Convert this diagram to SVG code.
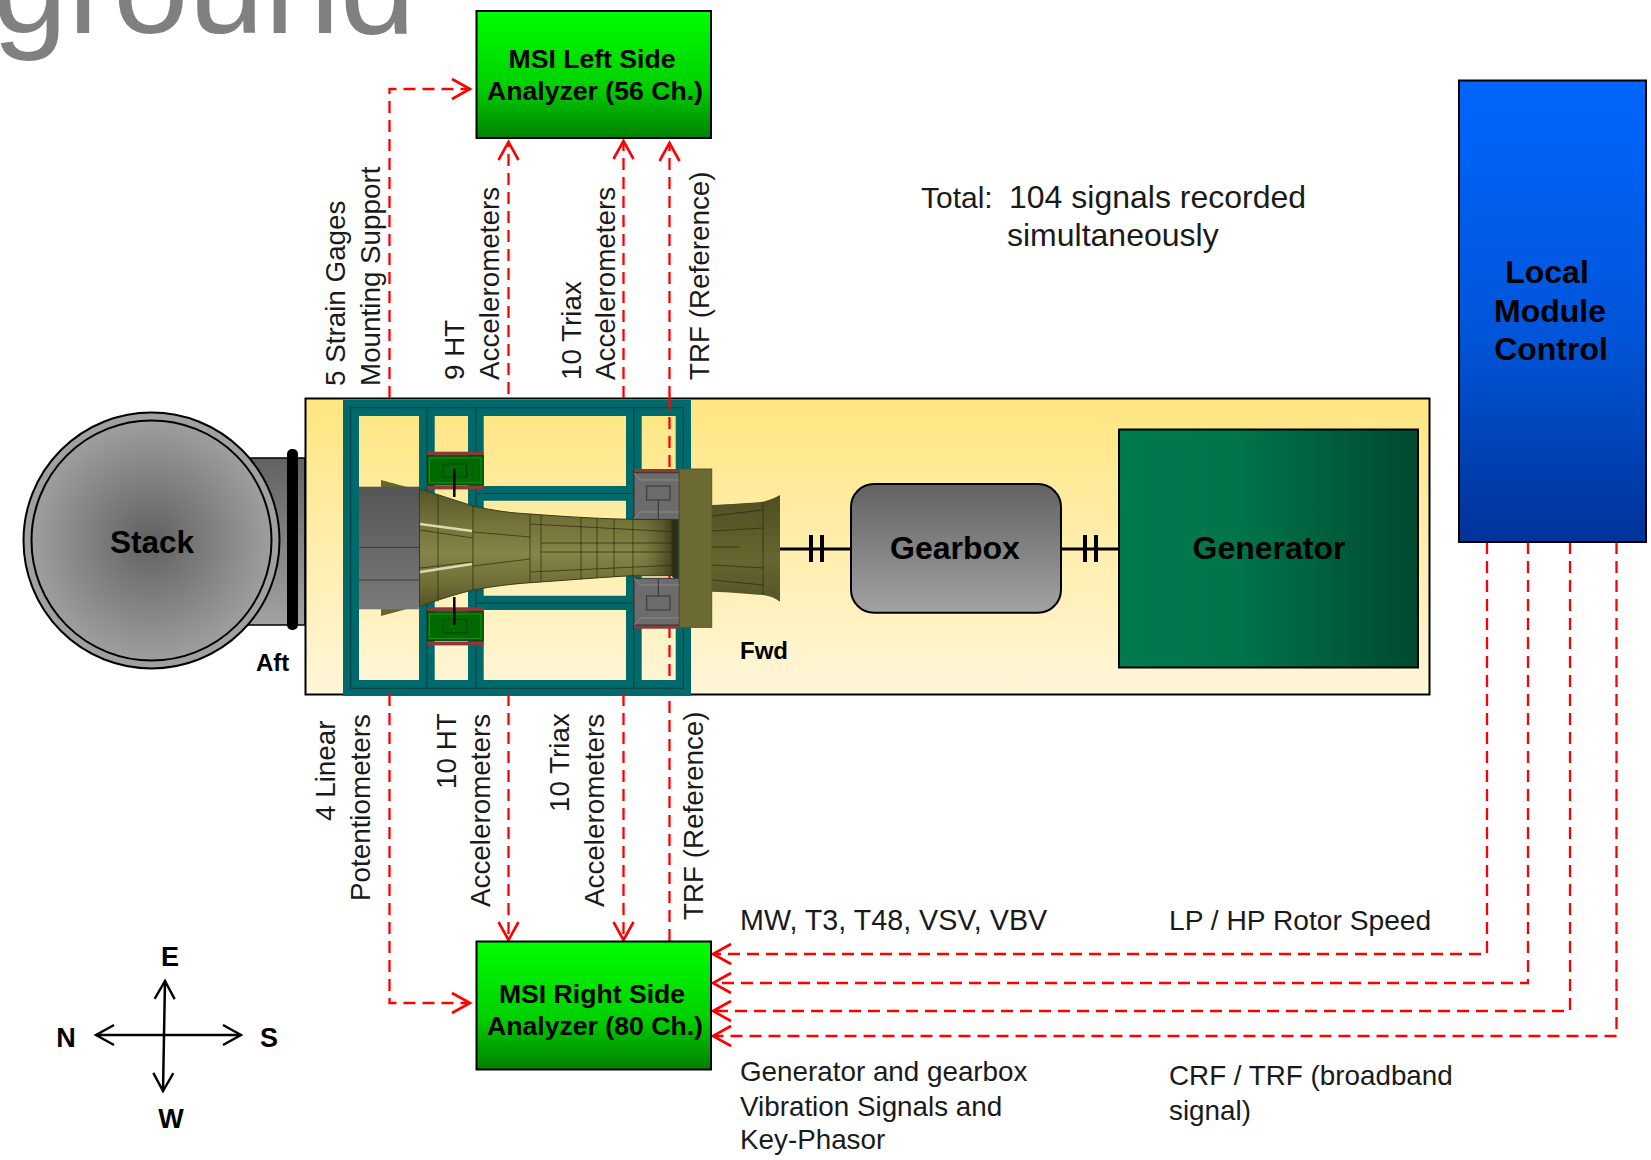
<svg xmlns="http://www.w3.org/2000/svg" width="1651" height="1160" viewBox="0 0 1651 1160">
<style>
text{font-family:"Liberation Sans",Arial,sans-serif;fill:#000}
.b{font-weight:bold}
.n{font-size:27.8px;fill:#1a1a1a}
.t{font-size:32px;fill:#1a1a1a}
.big{font-size:32px;font-weight:bold;text-anchor:middle}
.msi{font-size:26.6px;font-weight:bold;text-anchor:middle}
.d{fill:none;stroke:#ff0000;stroke-width:2.3;stroke-dasharray:12 7}
.dl{fill:none;stroke:#ff0000;stroke-width:2.3;stroke-dasharray:12 7;marker-end:url(#ah)}
.k{fill:none;stroke:#000;stroke-width:2.5}
.beam{fill:#00696b}
.ln{fill:none;stroke:#123c3c;stroke-width:1}
.el{fill:none;stroke:#2a2a10;stroke-width:1;opacity:.7}
</style>
<defs>
<marker id="ah" markerUnits="userSpaceOnUse" markerWidth="24" markerHeight="26" refX="21" refY="13" orient="auto"><path d="M3 3L21 13L3 23" fill="none" stroke="#ff0000" stroke-width="2.6"/></marker>
<marker id="ak" markerUnits="userSpaceOnUse" markerWidth="24" markerHeight="26" refX="21" refY="13" orient="auto"><path d="M3 3L21 13L3 23" fill="none" stroke="#000" stroke-width="2.4"/></marker>
<linearGradient id="gy" x1="0" y1="0" x2="0" y2="1"><stop offset="0" stop-color="#ffe680"/><stop offset="1" stop-color="#fff6d9"/></linearGradient>
<linearGradient id="gg" x1="0" y1="0" x2="0" y2="1"><stop offset="0" stop-color="#00ff00"/><stop offset=".6" stop-color="#00d000"/><stop offset="1" stop-color="#008000"/></linearGradient>
<linearGradient id="gb" x1="0" y1="0" x2="0" y2="1"><stop offset="0" stop-color="#0066ff"/><stop offset=".55" stop-color="#0055d8"/><stop offset="1" stop-color="#003399"/></linearGradient>
<linearGradient id="gn" x1="0" y1="0" x2="1" y2="0"><stop offset="0" stop-color="#007a4e"/><stop offset=".4" stop-color="#00744a"/><stop offset="1" stop-color="#004a30"/></linearGradient>
<linearGradient id="gr" x1="0" y1="0" x2="0" y2="1"><stop offset="0" stop-color="#626262"/><stop offset="1" stop-color="#a2a2a2"/></linearGradient>
<radialGradient id="gs"><stop offset="0" stop-color="#616161"/><stop offset="1" stop-color="#9e9e9e"/></radialGradient>
<linearGradient id="gc" x1="0" y1="0" x2="0" y2="1"><stop offset="0" stop-color="#55552a"/><stop offset=".3" stop-color="#74743a"/><stop offset=".55" stop-color="#85854a"/><stop offset=".8" stop-color="#6e6e36"/><stop offset="1" stop-color="#545426"/></linearGradient>
<linearGradient id="gd" x1="0" y1="0" x2="1" y2="0"><stop offset="0" stop-color="#6e6e36" stop-opacity="0"/><stop offset="1" stop-color="#26260f" stop-opacity=".85"/></linearGradient>
<linearGradient id="gm" x1="0" y1="0" x2="0" y2="1"><stop offset="0" stop-color="#555"/><stop offset="1" stop-color="#7a7a7a"/></linearGradient>
<linearGradient id="gx" x1="0" y1="0" x2="0" y2="1"><stop offset="0" stop-color="#4e4e22"/><stop offset=".6" stop-color="#66662f"/><stop offset="1" stop-color="#54542a"/></linearGradient>
</defs>
<rect width="1651" height="1160" fill="#fff"/>
<text x="-8" y="33" font-size="136" style="fill:#808080">ground</text>

<g id="stack">
<rect x="240" y="458" width="65" height="167" fill="url(#gr)" stroke="#000" stroke-width="1.5"/>
<rect x="287" y="449" width="11" height="181" rx="5" fill="#000"/>
<circle cx="151.500" cy="540.500" r="128" fill="#a0a0a0" stroke="#000" stroke-width="2"/>
<circle cx="151.500" cy="540.500" r="120" fill="url(#gs)" stroke="#000" stroke-width="2"/>
<text x="152" y="553" class="b" font-size="31.500" text-anchor="middle">Stack</text>
<text x="256" y="671" class="b" font-size="24">Aft</text>
</g>

<g id="turbine-enclosure">
<rect x="305.500" y="398.500" width="1124" height="296" fill="url(#gy)" stroke="#000" stroke-width="2"/>
</g>

<g id="frame">
<path class="beam" fill-rule="evenodd" d="M343 400H691V696H343ZM359 416V680H419V416ZM434.700 416V680H468V416ZM483.700 416V486H626V416ZM483.700 500.700V595.700H626V500.700ZM483.700 610V680H626V610ZM641.700 416V680H675.700V416Z"/>
<rect x="350.700" y="407.700" width="332.600" height="280.600" class="ln"/>
<path class="ln" d="M427 408V688M476 408V688M633.700 408V688M476 493.500H634M476 603H634"/>
</g>

<g id="connectors">
<path class="dl" d="M389.500 398V89H470"/>
<path class="dl" d="M508.500 394V142"/>
<path class="dl" d="M623.500 398V141"/>
<path class="dl" d="M669.500 398V143"/>
<path class="d" d="M669.500 398V680"/>
<path class="dl" d="M389.500 694V1003H470"/>
<path class="dl" d="M508.500 694V940"/>
<path class="dl" d="M623.500 694V940"/>
<path class="d" d="M669.500 941V694"/>
<path class="dl" d="M1487 542V954H713"/>
<path class="dl" d="M1528 542V983H713"/>
<path class="dl" d="M1570 542V1011H713"/>
<path class="dl" d="M1616.500 542V1036H713"/>
</g>

<g id="engine">
<path d="M381 480L407 487V609L381 616Z" fill="#66662e"/>
<rect x="359" y="486.700" width="60.500" height="122.600" fill="url(#gm)"/>
<path class="el" stroke="#333" d="M359 547.300H419.500M359 580H419.500"/>
<path id="cone" d="M419.500 489C430 492 445 497 473 506C495 511 512 513 530 514C570 517 605 519 633 519.300H672L678 513V582L672 575.700H633C605 577 570 580 530 582.700C512 584 495 586 473 590C445 597 430 603 419.500 606.700Z" fill="url(#gc)" stroke="#3a3a18" stroke-width="1"/>
<path d="M633 519.300H672L678 513V582L672 575.700H633Z" fill="url(#gd)"/>
<path class="el" d="M438 495V601.700M473 506V590M530 514V582.700M541 515V581M581 517V579M597 518V578M614 519V577M633 519.300V576.700M672 519V576M420 530L473 538M420 568L473 562M473 532L530 537M473 566L530 559M530 524L678 532M530 572L678 565M541 543H672M541 552H672"/>
<path d="M420 524L472 531M420 572L472 564" stroke="#f4f4d0" stroke-width="2.500" fill="none" opacity=".8"/>
<path d="M672 519.300L678 513V582L672 575.700Z" fill="#2e2e14"/>

<rect x="427.300" y="451.700" width="56.300" height="3.700" fill="#8a3a3a"/>
<rect x="427.300" y="485.700" width="56.300" height="3.700" fill="#8a3a3a"/>
<rect x="427.300" y="455.700" width="56" height="29.300" fill="#006a00" stroke="#0c3c0c"/>
<rect x="429.500" y="458" width="51.500" height="24.700" fill="none" stroke="#1c8a1c"/>
<rect x="443.300" y="464" width="23.300" height="13.300" fill="none" stroke="#0c3c0c"/>
<rect x="427.300" y="607.300" width="56.300" height="3.700" fill="#8a3a3a"/>
<rect x="427.300" y="641.700" width="56.300" height="3.700" fill="#8a3a3a"/>
<rect x="427.300" y="611.700" width="56" height="29" fill="#006a00" stroke="#0c3c0c"/>
<rect x="429.500" y="614" width="51.500" height="24.500" fill="none" stroke="#1c8a1c"/>
<rect x="443.300" y="619.500" width="23.300" height="13.300" fill="none" stroke="#0c3c0c"/>
<path d="M454.300 469V497M454.300 597V625" stroke="#000" stroke-width="2.500"/>

<rect x="634" y="469" width="45.300" height="4" fill="#8a3a3a"/>
<rect x="634" y="625" width="45.300" height="3.700" fill="#8a3a3a"/>
<rect x="634" y="472.700" width="45.300" height="46.700" fill="#6c6c6c" stroke="#333"/>
<rect x="634" y="578.300" width="45.300" height="46.700" fill="#6c6c6c" stroke="#333"/>
<path d="M634 473L640 480H679M634 519L640 512H679M634 578L640 585H679M634 625L640 618H679" fill="none" stroke="#8a8a8a"/>
<rect x="646.700" y="486" width="23.300" height="14" fill="none" stroke="#333"/>
<rect x="646.700" y="596" width="23.300" height="14" fill="none" stroke="#333"/>
<path d="M658.300 500V519M658.300 578V596" stroke="#333" fill="none"/>
<rect x="679.300" y="469" width="32.400" height="158.300" fill="#6b6b33" stroke="#55552a"/>
<path d="M711.700 505C730 504 750 503 763 501.700C770 500 775 498 780 495V601.700C775 598 770 596 763 595C750 594 730 592 711.700 591.700Z" fill="url(#gx)"/>
<path class="el" d="M763 502V595M712 516L763 510M712 531L763 528M712 547H740M712 565L763 568M712 580L763 585"/>
<text x="740" y="659" class="b" font-size="24">Fwd</text>
</g>

<g id="gearbox">
<path d="M780 549H851M1061 549H1118" stroke="#000" stroke-width="3" fill="none"/>
<path d="M811 535V562M822 535V562M1085 535V562M1096 535V562" stroke="#000" stroke-width="4" fill="none"/>
<rect x="851" y="484" width="210" height="128.700" rx="23" fill="url(#gr)" stroke="#000" stroke-width="2"/>
<text x="955" y="559" class="big">Gearbox</text>
</g>

<g id="generator">
<rect x="1119" y="429.500" width="299" height="238" fill="url(#gn)" stroke="#000" stroke-width="2"/>
<text x="1269" y="559" class="big">Generator</text>
</g>

<g id="local-module-control">
<rect x="1459" y="80.500" width="187" height="461.500" fill="url(#gb)" stroke="#000" stroke-width="2"/>
<text x="1547" y="283" class="big">Local</text>
<text x="1550" y="322" class="big">Module</text>
<text x="1551" y="360" class="big">Control</text>
</g>

<g id="msi-left">
<rect x="476.500" y="11" width="234.500" height="127" fill="url(#gg)" stroke="#000" stroke-width="2"/>
<text x="592" y="68" class="msi">MSI Left Side</text>
<text x="595" y="100" class="msi">Analyzer (56 Ch.)</text>
</g>

<g id="msi-right">
<rect x="476.500" y="941.500" width="234.500" height="128" fill="url(#gg)" stroke="#000" stroke-width="2"/>
<text x="592" y="1003" class="msi">MSI Right Side</text>
<text x="595" y="1035" class="msi">Analyzer (80 Ch.)</text>
</g>

<g id="labels">
<text x="921" y="208" class="t" style="font-size:30px">Total:</text>
<text x="1009" y="208" class="t">104 signals recorded</text>
<text x="1007" y="246" class="t">simultaneously</text>
<text transform="translate(345 386) rotate(-90)" class="n">5 Strain Gages</text>
<text transform="translate(380 386) rotate(-90)" class="n">Mounting Support</text>
<text transform="translate(464 380) rotate(-90)" class="n">9 HT</text>
<text transform="translate(499 380) rotate(-90)" class="n">Accelerometers</text>
<text transform="translate(581 380) rotate(-90)" class="n">10 Triax</text>
<text transform="translate(615 380) rotate(-90)" class="n">Accelerometers</text>
<text transform="translate(709 380) rotate(-90)" class="n">TRF (Reference)</text>
<text transform="translate(335 821) rotate(-90)" class="n">4 Linear</text>
<text transform="translate(370 901) rotate(-90)" class="n">Potentiometers</text>
<text transform="translate(456 789) rotate(-90)" class="n">10 HT</text>
<text transform="translate(490 907) rotate(-90)" class="n">Accelerometers</text>
<text transform="translate(569 812) rotate(-90)" class="n">10 Triax</text>
<text transform="translate(604 907) rotate(-90)" class="n">Accelerometers</text>
<text transform="translate(703 920) rotate(-90)" class="n">TRF (Reference)</text>
<text x="740" y="930" class="n" style="font-size:28.700px">MW, T3, T48, VSV, VBV</text>
<text x="1169" y="930" class="n" style="font-size:28.200px">LP / HP Rotor Speed</text>
<text x="740" y="1081" class="n">Generator and gearbox</text>
<text x="740" y="1116" class="n">Vibration Signals and</text>
<text x="740" y="1149" class="n">Key-Phasor</text>
<text x="1169" y="1085" class="n">CRF / TRF (broadband</text>
<text x="1169" y="1120" class="n">signal)</text>
</g>

<g id="compass">
<path d="M164 1035L165 981" class="k" marker-end="url(#ak)"/>
<path d="M164 1035L163 1091" class="k" marker-end="url(#ak)"/>
<path d="M164 1035H96" class="k" marker-end="url(#ak)"/>
<path d="M164 1035H241" class="k" marker-end="url(#ak)"/>
<text x="170" y="966" class="b" font-size="27" text-anchor="middle">E</text>
<text x="66" y="1047" class="b" font-size="27" text-anchor="middle">N</text>
<text x="269" y="1047" class="b" font-size="27" text-anchor="middle">S</text>
<text x="171" y="1128" class="b" font-size="27" text-anchor="middle">W</text>
</g>
</svg>
